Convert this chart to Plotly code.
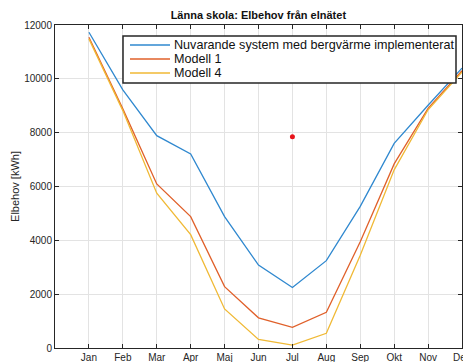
import plotly.graph_objects as go

months = ["Jan", "Feb", "Mar", "Apr", "Maj", "Jun", "Jul", "Aug", "Sep", "Okt", "Nov", "Dec"]
month_idx = [1, 2, 3, 4, 5, 6, 7, 8, 9, 10, 11, 12]

nuvarande = [11730, 9590, 7890, 7210, 4880, 3080, 2250, 3245, 5260, 7600, 9020, 10400]
modell1 = [11545, 8885, 6095, 4880, 2280, 1120, 765, 1325, 3950, 6840, 8900, 10300]
modell4 = [11485, 8820, 5750, 4210, 1450, 320, 110, 545, 3450, 6620, 8850, 10250]

extra_x = [7]
extra_y = [7850]

y_ticks = [0, 2000, 4000, 6000, 8000, 10000, 12000]
y_ticktext = ["0", "2000", "4000", "6000", "8000", "10000", "12000"]

names = ["Nuvarande system med bergvärme implementerat", "Modell 1", "Modell 4"]
colors = ["#2f88cf", "#e0602a", "#f0b935"]

W, H = 463, 362
ML, MR, MT, MB = 55, 1, 25, 14
PW, PH = W - ML - MR, H - MT - MB


def px_x(px):
    return (px - ML) / PW


def px_y(py):
    return (H - MB - py) / PH


fig = go.Figure()
for ys, nm, c in zip([nuvarande, modell1, modell4], names, colors):
    fig.add_trace(go.Scatter(x=month_idx, y=ys, mode="lines", name=nm,
                             line=dict(color=c, width=1.3), showlegend=False))
fig.add_trace(go.Scatter(x=extra_x, y=extra_y, mode="markers", showlegend=False,
                         marker=dict(color="#e8141b", size=5)))

# legend box drawn as in the original (compact rows)
shapes = [dict(type="rect", xref="paper", yref="paper",
               x0=px_x(123), x1=px_x(456), y0=px_y(83), y1=px_y(36),
               fillcolor="white", line=dict(color="#262626", width=1.5), layer="above")]
annotations = []
for i, (nm, c) in enumerate(zip(names, colors)):
    ry = 45 + 14 * i
    shapes.append(dict(type="line", xref="paper", yref="paper",
                       x0=px_x(130), x1=px_x(170), y0=px_y(ry), y1=px_y(ry),
                       line=dict(color=c, width=1.3), layer="above"))
    annotations.append(dict(xref="paper", yref="paper", x=px_x(172), y=px_y(ry),
                            xanchor="left", yanchor="middle", showarrow=False,
                            text=nm, font=dict(size=12.6, color="#111111")))

axis_common = dict(
    showline=True, linecolor="#262626", linewidth=1, mirror="ticks",
    ticks="inside", ticklen=4, tickcolor="#262626",
    showgrid=True, gridcolor="#e3e3e3", gridwidth=1, zeroline=False,
    tickfont=dict(family="Liberation Sans, Arial", size=10, color="#262626"),
    ticklabeloverflow="allow", automargin=False,
)

fig.update_layout(
    width=W, height=H,
    margin=dict(l=ML, r=MR, t=MT, b=MB),
    paper_bgcolor="white", plot_bgcolor="white",
    font=dict(family="Liberation Sans, Arial", color="#262626"),
    title=dict(text="<b>Länna skola: Elbehov från elnätet</b>",
               font=dict(size=11, color="#111111"), x=0.558, xanchor="center",
               y=0.958, yanchor="middle"),
    xaxis=dict(range=[0, 12], tickvals=month_idx, ticktext=months, **axis_common),
    yaxis=dict(range=[0, 12000], tickvals=y_ticks, ticktext=y_ticktext,
               title=dict(text="Elbehov [kWh]", font=dict(size=11, color="#262626"), standoff=2),
               **axis_common),
    shapes=shapes,
    annotations=annotations,
    showlegend=False,
)

fig.write_html("out.html")
